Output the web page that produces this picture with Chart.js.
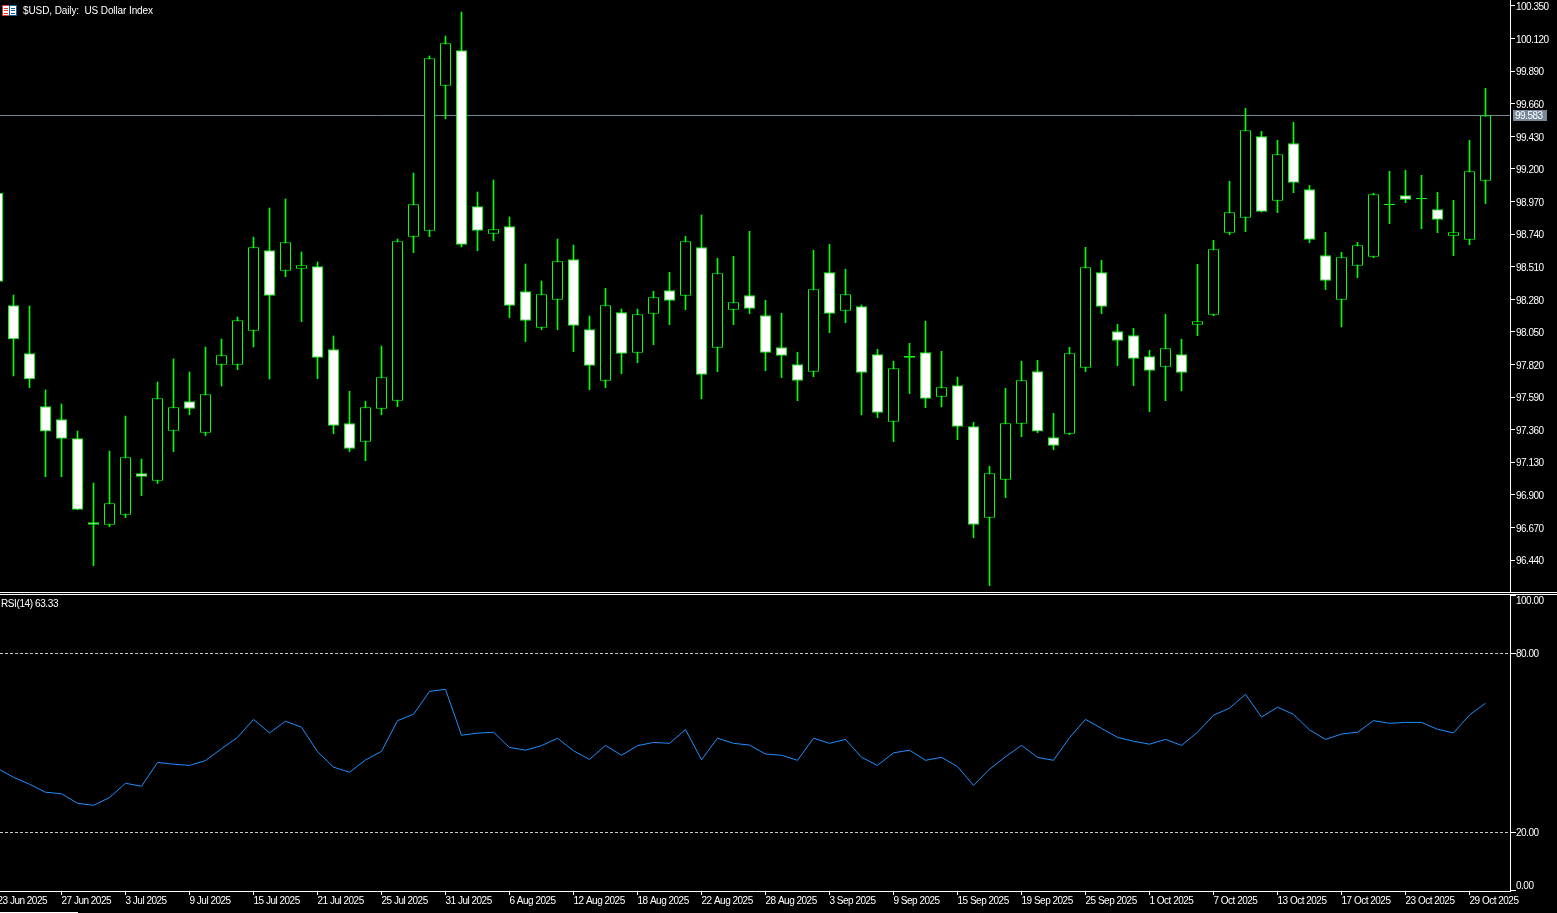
<!DOCTYPE html>
<html>
<head>
<meta charset="utf-8">
<title>$USD, Daily: US Dollar Index</title>
<script src="https://cdn.jsdelivr.net/npm/chart.js@4/dist/chart.umd.min.js"></script>
<style>
html,body{margin:0;padding:0;background:#000;overflow:hidden;width:1557px;height:913px}
canvas{position:absolute;left:0;display:block}
.rule{position:absolute;left:0;width:1557px;height:1px;background:#fff}
</style>
</head>
<body>
<canvas id="price" width="1557" height="592" style="top:0"></canvas>
<div class="rule" style="top:592px"></div>
<div class="rule" style="top:594px"></div>
<canvas id="rsi" width="1557" height="318" style="top:595px"></canvas>
<script>
const categories = [
"23 Jun 2025","24 Jun 2025","25 Jun 2025","26 Jun 2025","27 Jun 2025","30 Jun 2025","1 Jul 2025","2 Jul 2025","3 Jul 2025","4 Jul 2025",
"7 Jul 2025","8 Jul 2025","9 Jul 2025","10 Jul 2025","11 Jul 2025","14 Jul 2025","15 Jul 2025","16 Jul 2025","17 Jul 2025","18 Jul 2025",
"21 Jul 2025","22 Jul 2025","23 Jul 2025","24 Jul 2025","25 Jul 2025","28 Jul 2025","29 Jul 2025","30 Jul 2025","31 Jul 2025","1 Aug 2025",
"4 Aug 2025","5 Aug 2025","6 Aug 2025","7 Aug 2025","8 Aug 2025","11 Aug 2025","12 Aug 2025","13 Aug 2025","14 Aug 2025","15 Aug 2025",
"18 Aug 2025","19 Aug 2025","20 Aug 2025","21 Aug 2025","22 Aug 2025","25 Aug 2025","26 Aug 2025","27 Aug 2025","28 Aug 2025","29 Aug 2025",
"1 Sep 2025","2 Sep 2025","3 Sep 2025","4 Sep 2025","5 Sep 2025","8 Sep 2025","9 Sep 2025","10 Sep 2025","11 Sep 2025","12 Sep 2025",
"15 Sep 2025","16 Sep 2025","17 Sep 2025","18 Sep 2025","19 Sep 2025","22 Sep 2025","23 Sep 2025","24 Sep 2025","25 Sep 2025","26 Sep 2025",
"29 Sep 2025","30 Sep 2025","1 Oct 2025","2 Oct 2025","3 Oct 2025","6 Oct 2025","7 Oct 2025","8 Oct 2025","9 Oct 2025","10 Oct 2025",
"13 Oct 2025","14 Oct 2025","15 Oct 2025","16 Oct 2025","17 Oct 2025","20 Oct 2025","21 Oct 2025","22 Oct 2025","23 Oct 2025","24 Oct 2025",
"27 Oct 2025","28 Oct 2025","29 Oct 2025","30 Oct 2025"];
const opens = [
99.030,98.237,97.899,97.525,97.433,97.299,96.706,96.689,96.760,97.052,
97.000,97.353,97.560,97.338,97.818,97.818,98.058,98.626,98.482,98.496,
98.513,97.927,97.405,97.275,97.508,97.564,98.722,98.764,99.787,100.037,
98.936,98.743,98.795,98.336,98.079,98.277,98.562,98.068,97.705,98.188,
97.903,98.178,98.343,98.305,98.647,97.938,98.206,98.308,98.167,97.941,
97.821,97.769,98.470,98.199,98.230,97.892,97.416,97.880,97.906,97.592,
97.673,97.384,96.739,97.007,97.402,97.772,97.306,97.331,97.797,98.470,
98.054,98.026,97.878,97.804,97.892,98.101,98.171,98.750,98.856,99.430,
98.976,99.381,99.056,98.590,98.277,98.517,98.580,98.945,99.014,98.988,
98.915,98.729,98.700,99.117];
const closes = [
98.404,97.998,97.715,97.346,97.296,96.795,96.689,96.840,97.165,97.028,
97.581,97.518,97.508,97.609,97.885,98.132,98.647,98.305,98.682,98.520,
97.868,97.388,97.225,97.518,97.729,98.689,98.950,99.981,100.086,98.665,
98.764,98.774,98.235,98.129,98.315,98.548,98.094,97.811,98.237,97.896,
98.174,98.294,98.270,98.689,97.748,98.463,98.259,98.214,97.903,97.882,
97.705,98.350,98.178,98.315,97.762,97.480,97.793,97.868,97.578,97.659,
97.381,96.689,97.052,97.405,97.708,97.346,97.247,97.899,98.506,98.228,
97.988,97.861,97.776,97.934,97.762,98.125,98.633,98.894,99.472,98.898,
99.303,99.103,98.700,98.411,98.576,98.661,99.021,98.952,98.983,98.995,
98.842,98.753,99.183,99.577];
const highs = [
99.030,98.310,98.233,97.640,97.541,97.350,96.983,97.209,97.456,97.153,
97.696,97.859,97.767,97.943,98.000,98.155,98.719,98.924,98.988,98.614,
98.543,98.021,97.631,97.560,97.950,98.705,99.171,99.997,100.138,100.307,
99.037,99.122,98.861,98.529,98.409,98.705,98.663,98.162,98.357,98.211,
98.211,98.336,98.470,98.724,98.875,98.569,98.583,98.760,98.273,98.181,
97.906,98.626,98.668,98.492,98.240,97.927,97.842,97.969,98.125,97.913,
97.729,97.412,97.101,97.652,97.842,97.849,97.475,97.941,98.647,98.555,
98.103,98.075,97.920,98.174,97.998,98.527,98.696,99.113,99.628,99.465,
99.402,99.529,99.084,98.753,98.612,98.682,99.028,99.183,99.190,99.155,
99.035,98.978,99.402,99.769];
const lows = [
98.404,97.739,97.656,97.028,97.028,96.795,96.400,96.675,96.739,96.894,
96.979,97.204,97.465,97.317,97.668,97.783,97.943,97.717,98.439,98.122,
97.720,97.331,97.204,97.141,97.465,97.522,98.609,98.722,99.554,98.649,
98.623,98.693,98.150,97.981,98.065,98.065,97.910,97.642,97.656,97.755,
97.832,97.959,98.101,98.206,97.578,97.769,98.101,98.178,97.776,97.727,
97.564,97.734,98.044,98.115,97.465,97.444,97.275,97.614,97.515,97.522,
97.289,96.597,96.259,96.880,97.310,97.338,97.218,97.324,97.769,98.178,
97.811,97.670,97.487,97.564,97.635,98.023,98.164,98.736,98.757,98.896,
98.891,99.032,98.679,98.348,98.086,98.432,98.573,98.813,98.962,98.778,
98.750,98.588,98.665,98.955];
const rsiValues = [
41.5,38.5,36.2,33.5,33.0,29.8,29.1,31.7,36.5,35.5,
43.5,42.9,42.5,44.1,48.1,51.9,57.9,53.4,57.3,55.3,
47.1,41.9,40.2,44.3,47.2,57.5,59.6,67.3,68.0,52.6,
53.3,53.6,48.5,47.6,49.1,51.6,47.4,44.5,49.2,45.9,
49.1,50.2,49.9,54.5,44.4,51.6,49.9,49.3,46.3,45.9,
44.2,51.6,49.9,51.2,45.2,42.5,46.7,47.6,44.2,45.2,
42.1,35.8,41.2,45.4,49.2,45.2,44.2,51.8,57.9,54.9,
51.9,50.6,49.6,51.2,49.2,53.6,59.3,61.7,66.3,58.7,
62.0,59.6,54.4,51.2,53.0,53.6,57.5,56.6,56.9,56.9,
54.6,53.4,59.4,63.33];
const priceTicks = [100.35,100.12,99.89,99.66,99.43,99.2,98.97,98.74,98.51,98.28,98.05,97.82,97.59,97.36,97.13,96.9,96.67,96.44];
const rsiTicks = [100,80,20,0];
const rsiLevels = [80,20];
const bidLine = 99.577;
const bidLabel = "99.583";
const titleText = "$USD, Daily:  US Dollar Index";
const rsiTitle = "RSI(14) 63.33";

const FONT = '"Liberation Sans",sans-serif';
const FONT_SPEC = {family: FONT, size: 10};
const GREEN = '#00ff00';
const xMin = 0.15625, xMax = 94.53125;
const AXIS_W = 47;

const idx = categories.map((_, i) => i);
const wicks = idx.map(i => ({x: i, y: [lows[i], highs[i]]}));
const bodies = idx.map(i => ({x: i, y: [opens[i], closes[i]]}));

function fixWidth(s){ s.width = AXIS_W; s.paddingTop = 0; s.paddingBottom = 0; }

const pricePlugin = {
  id: 'priceOverlay',
  beforeDraw(c){ c.ctx.letterSpacing = '-0.5px'; },
  afterDraw(c){
    const ctx = c.ctx, y = c.scales.y;
    ctx.save();
    // symbol icon
    ctx.fillStyle = '#fff'; ctx.fillRect(3,6,13,9);
    ctx.lineWidth = 1;
    ctx.strokeStyle = '#e0392b'; ctx.strokeRect(2.5,5.5,7,10);
    ctx.strokeStyle = '#0b5a9e'; ctx.strokeRect(9.5,5.5,7,10);
    ctx.fillStyle = '#e0392b'; ctx.fillRect(4,8,4,1); ctx.fillRect(4,10,4,1); ctx.fillRect(4,13,4,1);
    ctx.fillStyle = '#0b5a9e'; ctx.fillRect(11,8,4,1); ctx.fillRect(11,10,4,1); ctx.fillRect(11,13,4,1);
    // title
    ctx.letterSpacing = '-0.1px';
    ctx.font = '10px ' + FONT; ctx.fillStyle = '#fff';
    ctx.textAlign = 'left'; ctx.textBaseline = 'middle';
    ctx.fillText(titleText, 23, 11);
    // bid tag
    const py = Math.round(y.getPixelForValue(bidLine));
    ctx.fillStyle = '#778899'; ctx.fillRect(1513, py - 5, 34, 11);
    ctx.fillStyle = '#fff';
    ctx.letterSpacing = '-0.5px';
    ctx.fillText(bidLabel, 1515, py + 1);
    ctx.restore();
  }
};

new Chart(document.getElementById('price'), {
  type: 'bar',
  plugins: [pricePlugin],
  data: {
    datasets: [
      {type:'line', data:[{x:xMin,y:bidLine},{x:xMax,y:bidLine}], borderColor:'#778899', borderWidth:1, pointRadius:0, order:3},
      {type:'bar', data:wicks, backgroundColor:GREEN, borderWidth:0, barThickness:1, grouped:false, order:2},
      {type:'bar', data:bodies, grouped:false, barThickness:11, borderSkipped:false, borderWidth:1, borderColor:GREEN, inflateAmount:0,
       backgroundColor: ctx => (closes[ctx.dataIndex] < opens[ctx.dataIndex] ? '#ffffff' : '#000000'), order:1}
    ]
  },
  options: {
    responsive:false, animation:false, devicePixelRatio:1, events:[],
    layout:{padding:0},
    plugins:{legend:{display:false}, tooltip:{enabled:false}},
    scales:{
      x:{type:'linear', display:false, min:xMin, max:xMax, offset:false},
      y:{type:'linear', position:'right', min:96.2142, max:100.392,
         afterBuildTicks: s => { s.ticks = priceTicks.map(v => ({value:v})); },
         afterFit: fixWidth,
         border:{color:'#fff', width:1},
         grid:{drawOnChartArea:false, drawTicks:true, tickColor:'#fff', tickLength:5, tickWidth:1},
         ticks:{color:'#fff', font:FONT_SPEC, padding:1, labelOffset:1.5, autoSkip:false, callback:v => Number(v).toFixed(3)}}
    }
  }
});

const rsiPlugin = {
  id: 'rsiOverlay',
  beforeDraw(c){ c.ctx.letterSpacing = '-0.5px'; },
  afterDraw(c){
    const ctx = c.ctx, y = c.scales.y, a = c.chartArea;
    ctx.save();
    ctx.font = '10px ' + FONT; ctx.fillStyle = '#fff';
    ctx.textAlign = 'left'; ctx.textBaseline = 'middle';
    ctx.letterSpacing = '-0.4px';
    ctx.fillText(rsiTitle, 1, 9.5);
    ctx.letterSpacing = '-0.5px';
    rsiTicks.forEach(v => {
      const p = y.getPixelForValue(v);
      const labelY = Math.min(Math.max(p, a.top + 6), a.bottom - 5);
      const tickY = Math.floor(Math.min(Math.max(p, a.top), a.bottom - 1));
      ctx.fillStyle = '#fff';
      ctx.fillRect(1511, tickY, 5, 1);
      ctx.fillText(v.toFixed(2), 1516, labelY + 0.5);
    });
    ctx.fillRect(0, 317, 78, 1);
    ctx.restore();
  }
};

new Chart(document.getElementById('rsi'), {
  type: 'line',
  plugins: [rsiPlugin],
  data: {
    datasets: [
      ...rsiLevels.map(l => ({data:[{x:xMin,y:l},{x:xMax,y:l}], borderColor:'#c8c8c8', borderWidth:1, borderDash:[3,2], pointRadius:0, order:2})),
      {data: idx.map(i => ({x:i, y:rsiValues[i]})), borderColor:'#1e90ff', borderWidth:1, pointRadius:0, tension:0, order:1}
    ]
  },
  options: {
    responsive:false, animation:false, devicePixelRatio:1, events:[],
    layout:{padding:0},
    plugins:{legend:{display:false}, tooltip:{enabled:false}},
    scales:{
      x:{type:'linear', min:xMin, max:xMax, offset:false,
         afterBuildTicks: s => { s.ticks = idx.filter(i => i % 4 === 0).map(v => ({value:v})); },
         afterFit: s => { s.height = 22; s.paddingLeft = 0; s.paddingRight = 0; },
         border:{color:'#fff', width:1},
         grid:{drawOnChartArea:false, drawTicks:true, tickColor:'#fff', tickLength:4, tickWidth:1},
         ticks:{color:'#fff', font:FONT_SPEC, padding:0, autoSkip:false, maxRotation:0, minRotation:0, align:'start',
                callback:v => categories[v]}},
      y:{type:'linear', position:'right', min:0.392, max:99.61,
         afterFit: fixWidth,
         border:{color:'#fff', width:1},
         grid:{drawOnChartArea:false, drawTicks:false},
         ticks:{display:false}}
    }
  }
});
</script>
</body>
</html>
